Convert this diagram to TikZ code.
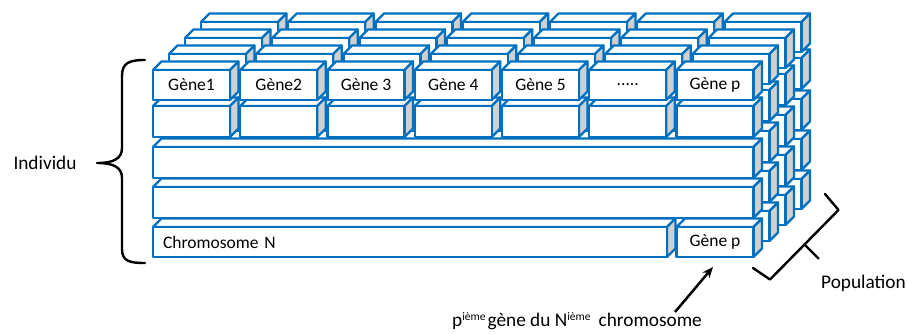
\documentclass[tikz,border=0pt]{standalone}
\usepackage{fontspec}
\setmainfont{Carlito}
\usetikzlibrary{arrows.meta}
\definecolor{boxblue}{RGB}{0,112,192}
\definecolor{sidegray}{RGB}{208,208,208}
\newcommand{\dep}{8.5}
\newcommand{\fivedots}{.{}.{}.{}.{}.}
\newcommand{\gbx}[7][]{%
  \path[face] (#3,#4) -- ++(\dep,-\dep) -- ++(#5,0) -- ++(-\dep,\dep) -- cycle;
  \path[sideface] (#3+#5,#4) -- ++(\dep,-\dep) -- ++(0,#6) -- ++(-\dep,\dep) -- cycle;
  \node[frontface, minimum width=#5pt, minimum height=#6pt, #1] (#2) at (#3+#5/2,#4+#6/2) {#7};}
\newcommand{\supx}[1]{\raisebox{5.5pt}{\fontsize{11.5}{12}\selectfont #1}}
\begin{document}
\begin{tikzpicture}[x=1pt,y=-1pt,
  face/.style={draw=boxblue, fill=white, line width=2.3pt, line join=round},
  sideface/.style={face, fill=sidegray},
  frontface/.style={face, rectangle, inner sep=0pt, outer sep=0pt, font=\fontsize{17.5}{20}\selectfont, text=black},
  bracestyle/.style={draw=black, line width=2.4pt, line cap=round, line join=round},
  lbl/.style={font=\fontsize{19.3}{23}\selectfont, text=black}]
\useasboundingbox (0,0) rectangle (907,334);
\foreach \L in {3,2,1,0}{
  \begin{scope}[shift={(16*\L,-16*\L)}]
    % row 5
    \gbx[text width=494pt, align=left, inner xsep=10pt]{L\L-chr}{153}{227}{514}{30}{\ifnum\L=0 Chromosome N\fi}
    \gbx{L\L-gp}{676.5}{227}{77}{30}{\ifnum\L=0 Gène p\fi}
    % rows 4 and 3
    \gbx{L\L-r4}{153}{187}{600.5}{31}{}
    \gbx{L\L-r3}{153}{147}{600.5}{31}{}
    % row 2
    \foreach \c in {0,1,2,3,4,5,6}{
      \gbx{L\L-r2-\c}{153+87.25*\c}{106}{77}{31}{}
    }
    % row 1
    \foreach \c/\t in {0/Gène1,1/Gène2,2/Gène 3,3/Gène 4,4/Gène 5,5/\fivedots,6/Gène p}{
      \gbx{L\L-r1-\c}{153+87.25*\c}{70}{77}{30}{\ifnum\L=0 \t\fi}
    }
  \end{scope}
}
% Individu brace
\draw[bracestyle] (145,60) .. controls (129,60) and (122,63) .. (122,76) -- (122,148)
  .. controls (122,159) and (113,163) .. (97,163) .. controls (113,163) and (122,167) .. (122,178)
  -- (122,249) .. controls (122,261) and (129,263) .. (145,263);
\node[lbl] (indiv) at (45,163) {Individu};
% Population brace
\coordinate (pb1) at (753,268);
\coordinate (pb2) at (770,279.5);
\coordinate (pbm) at (804.5,244.5);
\coordinate (pb3) at (838.5,210);
\coordinate (pb4) at (825,194);
\coordinate (pbt) at (818.5,258.5);
\draw[bracestyle] (pb1) -- (pb2) -- (pbm) -- (pb3) -- (pb4);
\draw[bracestyle] (pbm) -- (pbt);
\node[lbl] (pop) at (863.5,283) {Population};
% bottom note and arrow
\node[lbl, anchor=base west, inner sep=0pt] (note) at (452,326)
  {p\supx{ième}\hspace{2pt}gène du N\supx{ième}\hspace{8pt}chromosome};
\coordinate (atail) at (675,312);
\draw[-{Stealth[length=11pt,width=9pt]}, line width=2.5pt] (atail) -- ([xshift=-2pt,yshift=-10pt]L0-gp.south);
\end{tikzpicture}
\end{document}
